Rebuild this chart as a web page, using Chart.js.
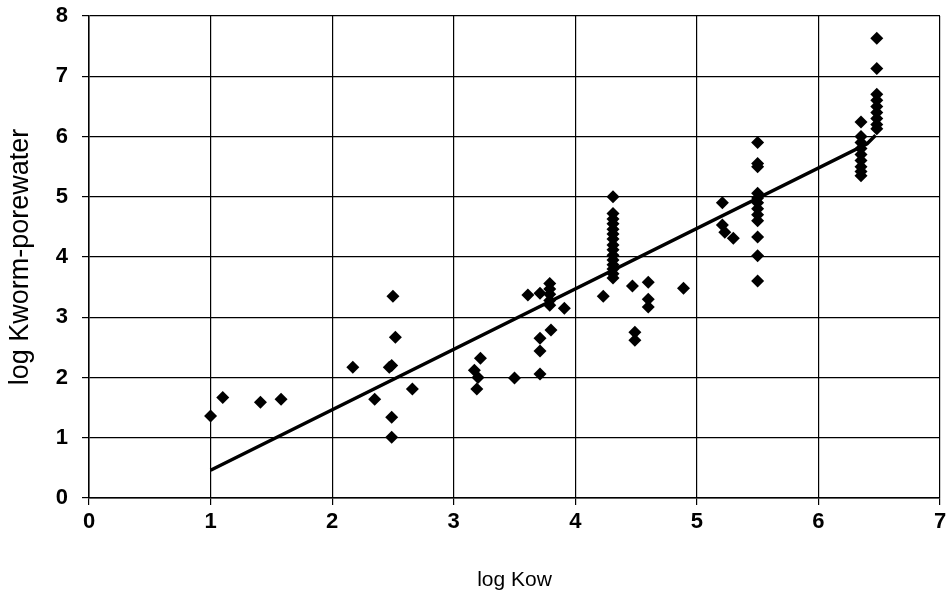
<!DOCTYPE html>
<html>
<head>
<meta charset="utf-8">
<script src="https://cdn.jsdelivr.net/npm/chart.js@4"></script>
<style>
  html, body { margin: 0; padding: 0; background: #fff; }
  #wrap { width: 949px; height: 599px; }
</style>
</head>
<body>
<div id="wrap"><canvas id="myChart"></canvas></div>
<script>
// measured points, log Kow vs log Kworm-porewater
var logKow = [
  1.0, 1.10, 1.41, 1.58, 2.17, 2.35, 2.49, 2.47, 2.50, 2.52, 2.49, 2.49, 2.66,
  3.22, 3.17, 3.20, 3.19, 3.50, 3.71, 3.71, 3.71, 3.80, 3.61, 3.71,
  3.79, 3.79, 3.79, 3.79, 3.79, 3.91, 4.23,
  4.31, 4.31, 4.31, 4.31, 4.31, 4.31, 4.31, 4.31, 4.31, 4.31, 4.31, 4.31, 4.31, 4.31, 4.31,
  4.47, 4.49, 4.49, 4.60, 4.60, 4.60, 4.89,
  5.21, 5.21, 5.23, 5.30,
  5.50, 5.50, 5.50, 5.50, 5.50, 5.50, 5.50, 5.50, 5.50, 5.50, 5.50, 5.50,
  6.35, 6.35, 6.35, 6.35, 6.35, 6.35, 6.35, 6.35, 6.35,
  6.48, 6.48, 6.48, 6.48, 6.48, 6.48, 6.48, 6.48, 6.48
]
var logKworm = [
  1.36, 1.67, 1.59, 1.64, 2.17, 1.64, 2.20, 2.17, 3.35, 2.67, 1.34, 1.01, 1.81,
  2.32, 2.12, 2.00, 1.81, 1.99, 2.06, 2.44, 2.65, 2.79, 3.37, 3.40,
  3.56, 3.47, 3.38, 3.28, 3.20, 3.15, 3.35,
  5.00, 4.72, 4.63, 4.55, 4.46, 4.38, 4.30, 4.20, 4.12, 4.03, 3.95, 3.87, 3.80, 3.72, 3.65,
  3.52, 2.75, 2.62, 3.58, 3.30, 3.17, 3.48,
  4.90, 4.53, 4.41, 4.31,
  5.90, 5.55, 5.50, 5.06, 4.98, 4.90, 4.80, 4.70, 4.60, 4.33, 4.02, 3.60,
  6.24, 6.00, 5.90, 5.80, 5.70, 5.60, 5.50, 5.42, 5.35,
  7.63, 7.13, 6.70, 6.60, 6.50, 6.40, 6.30, 6.20, 6.13
]

// fitted line as drawn
var fitX = [1.0, 6.40, 6.47]
var fitY = [0.46, 5.88, 6.02]

var xTicks = [0, 1, 2, 3, 4, 5, 6, 7]
var yTicks = [0, 1, 2, 3, 4, 5, 6, 7, 8]

var chartField = document.querySelector("#myChart").getContext("2d")

var myChart = new Chart(chartField, {
    type: "scatter",
    data: {
        datasets: [{
            data: logKow.map((x, i) => ({ x: x, y: logKworm[i] })),
            pointStyle: "rectRot",
            pointRadius: 6.5,
            backgroundColor: "#000",
            borderColor: "#000",
            borderWidth: 0
        }, {
            type: "line",
            data: fitX.map((x, i) => ({ x: x, y: fitY[i] })),
            borderColor: "#000",
            borderWidth: 3.5,
            pointRadius: 0,
            fill: false,
            tension: 0
        }]
    },
    options: {
        responsive: true,
        maintainAspectRatio: false,
        animation: false,
        layout: { padding: { top: 16, right: 9, left: 0, bottom: 0 } },
        plugins: { legend: { display: false }, tooltip: { enabled: false } },
        scales: {
            x: {
                type: "linear",
                min: 0, max: 7,
                afterBuildTicks: s => { s.ticks = xTicks.map(v => ({ value: v })) },
                afterFit: s => { s.height = 101; s.paddingRight = 0; s.paddingLeft = 0 },
                grid: { color: "#000", lineWidth: 1.2, tickLength: 7 },
                border: { color: "#000", width: 1.5 },
                ticks: {
                    color: "#000",
                    padding: 4,
                    font: { family: "Liberation Sans, Arial", size: 22, weight: "bold" }
                },
                title: {
                    display: true,
                    text: "log Kow",
                    color: "#000",
                    padding: { top: 0, bottom: 6 },
                    font: { family: "Liberation Sans, Arial", size: 21 }
                }
            },
            y: {
                min: 0, max: 8,
                afterBuildTicks: s => { s.ticks = yTicks.map(v => ({ value: v })) },
                afterFit: s => { s.width = 89; s.paddingTop = 0; s.paddingBottom = 0 },
                grid: { color: "#000", lineWidth: 1.2, tickLength: 7 },
                border: { color: "#000", width: 1.5 },
                ticks: {
                    color: "#000",
                    padding: 14,
                    font: { family: "Liberation Sans, Arial", size: 22, weight: "bold" }
                },
                title: {
                    display: true,
                    text: "log Kworm-porewater",
                    color: "#000",
                    padding: { top: 4, bottom: 0 },
                    font: { family: "Liberation Sans, Arial", size: 27 }
                }
            }
        }
    }
});
</script>
</body>
</html>
